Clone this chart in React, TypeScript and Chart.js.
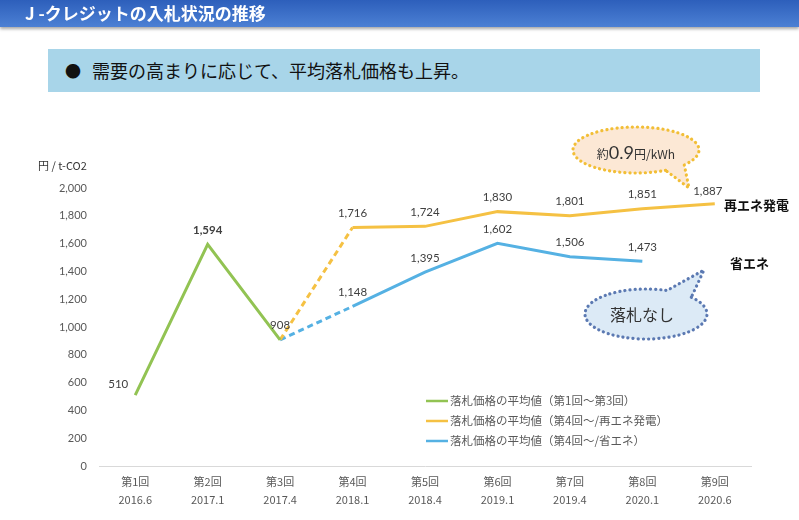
import React, { useEffect, useRef } from 'react';
import { Chart, registerables } from 'chart.js';

Chart.register(...registerables);

const rounds = ['第1回', '第2回', '第3回', '第4回', '第5回', '第6回', '第7回', '第8回', '第9回'];
const dates = ['2016.6', '2017.1', '2017.4', '2018.1', '2018.4', '2019.1', '2019.4', '2020.1', '2020.6'];
const greenValues = [510, 1594, 908, null, null, null, null, null, null];
const yellowValues = [null, null, 908, 1716, 1724, 1830, 1801, 1851, 1887];
const blueValues = [null, null, 908, 1148, 1395, 1602, 1506, 1473, null];
const seriesNames = [
  '落札価格の平均値（第1回～第3回）',
  '落札価格の平均値（第4回～/再エネ発電）',
  '落札価格の平均値（第4回～/省エネ）',
];
const yTickStep = 200;
const yMax = 2000;

const GREEN = '#92C353';
const YELLOW = '#F5C143';
const BLUE = '#55B1E3';
const JP = '"Noto Sans CJK JP", "Noto Sans", sans-serif';
const NUM = 'Lato, "Noto Sans", sans-serif';

const fmt = (v: number) => v.toLocaleString('en-US');

function bubble(ctx: CanvasRenderingContext2D, cx: number, cy: number, rx: number, ry: number,
  a0: number, a1: number, tipX: number, tipY: number, fill: string, stroke: string) {
  const d = Math.PI / 180;
  ctx.save();
  ctx.beginPath();
  ctx.ellipse(cx, cy, rx, ry, 0, a0 * d, a1 * d, false);
  ctx.lineTo(tipX, tipY);
  ctx.closePath();
  ctx.fillStyle = fill;
  ctx.fill();
  ctx.setLineDash([0.1, 5]);
  ctx.lineCap = 'round';
  ctx.lineWidth = 3.2;
  ctx.strokeStyle = stroke;
  ctx.stroke();
  ctx.restore();
}

const overlayPlugin = {
  id: 'overlay',
  afterDatasetsDraw(chart: any) {
    const ctx: CanvasRenderingContext2D = chart.ctx;
    ctx.save();

    // axis unit
    ctx.font = `11px ${JP}`;
    ctx.fillStyle = '#333';
    ctx.textAlign = 'left';
    ctx.textBaseline = 'middle';
    ctx.fillText('円 / t-CO2', 38, 166);

    // data labels
    ctx.textAlign = 'center';
    chart.data.datasets.forEach((ds: any, di: number) => {
      const meta = chart.getDatasetMeta(di);
      ds.data.forEach((v: number | null, i: number) => {
        if (v == null) return;
        if (di > 0 && i === 2) return;
        const p = meta.data[i];
        let dx = 0, dy = -14;
        if (di === 0 && i === 0) { dx = -17; dy = -11; }
        if (di === 1 && i === 8) { dx = -7; dy = -12; }
        ctx.font = (di === 0 && i === 1) ? `bold 11.5px ${NUM}` : `11.5px ${NUM}`;
        ctx.fillStyle = '#404040';
        ctx.fillText(fmt(v), p.x + dx, p.y + dy);
      });
    });

    // legend
    const legendY = [401, 421, 441];
    const colors = [GREEN, YELLOW, BLUE];
    ctx.font = `11.5px ${JP}`;
    ctx.textAlign = 'left';
    colors.forEach((c, k) => {
      ctx.strokeStyle = c;
      ctx.lineWidth = 2.5;
      ctx.beginPath();
      ctx.moveTo(426, legendY[k]);
      ctx.lineTo(448, legendY[k]);
      ctx.stroke();
      ctx.fillStyle = '#595959';
      ctx.fillText(chart.data.datasets[k].label, 450, legendY[k]);
    });

    // series end labels
    ctx.font = `bold 13px ${JP}`;
    ctx.fillStyle = '#111';
    ctx.fillText('再エネ発電', 724, 205);
    ctx.fillText('省エネ', 730, 263);

    // callout 1
    bubble(ctx, 636, 150, 63, 23, 62, 400, 689, 188, '#FCE8D5', '#F2BE36');
    {
      const parts = [
        { t: '約', f: `12px ${JP}` },
        { t: '0.9', f: `18px ${NUM}` },
        { t: '円/kWh', f: `12px ${JP}` },
      ];
      let total = 0;
      parts.forEach(p => { ctx.font = p.f; total += ctx.measureText(p.t).width; });
      let x = 636 - total / 2;
      ctx.fillStyle = '#333';
      ctx.textBaseline = 'alphabetic';
      parts.forEach(p => { ctx.font = p.f; ctx.fillText(p.t, x, 159); x += ctx.measureText(p.t).width; });
    }

    // callout 2
    bubble(ctx, 646, 314, 61, 25, -42, 290, 704, 270, '#DCEAF6', '#5B79B2');
    ctx.font = `16px ${JP}`;
    ctx.fillStyle = '#333';
    ctx.textAlign = 'center';
    ctx.textBaseline = 'middle';
    ctx.fillText('落札なし', 642, 315);

    ctx.restore();
  },
};

export default function App() {
  const ref = useRef<HTMLCanvasElement>(null);
  useEffect(() => {
    const dash = (c: any) => (c.p0DataIndex === 2 ? [6, 4] : undefined);
    const chart = new Chart(ref.current!, {
      type: 'line',
      data: {
        labels: rounds.map((r, i) => [r, dates[i]]),
        datasets: [
          { label: seriesNames[0], data: greenValues, borderColor: GREEN, borderWidth: 3, pointRadius: 0, tension: 0 },
          { label: seriesNames[1], data: yellowValues, borderColor: YELLOW, borderWidth: 3, pointRadius: 0, tension: 0, segment: { borderDash: dash } },
          { label: seriesNames[2], data: blueValues, borderColor: BLUE, borderWidth: 3, pointRadius: 0, tension: 0, segment: { borderDash: dash } },
        ],
      } as any,
      options: {
        responsive: false,
        animation: false,
        layout: { padding: { left: 0, top: 188, right: 48, bottom: 0 } },
        plugins: { legend: { display: false }, tooltip: { enabled: false } },
        scales: {
          x: {
            offset: true,
            grid: { display: false, drawTicks: false },
            border: { display: true, color: '#D9D9D9', width: 1 },
            ticks: { padding: 7, color: '#595959', font: { size: 11, family: JP, lineHeight: 1.6 }, maxRotation: 0, autoSkip: false },
            afterFit: (s: any) => { s.height = 54; },
          },
          y: {
            min: 0,
            max: yMax,
            grid: { display: false, drawTicks: false },
            border: { display: false },
            ticks: { stepSize: yTickStep, padding: 12, color: '#595959', font: { size: 11, family: NUM }, callback: (v: any) => fmt(Number(v)) },
            afterFit: (s: any) => { s.width = 99; },
          },
        },
      } as any,
      plugins: [overlayPlugin],
    });
    return () => chart.destroy();
  }, []);

  return (
    <div style={{ position: 'fixed', left: 0, top: 0, width: 799, height: 520, background: '#fff', overflow: 'hidden' }}>
      <canvas ref={ref} width={799} height={520} style={{ position: 'absolute', left: 0, top: 0, width: 799, height: 520 }} />
      <div style={{
        position: 'absolute', left: 0, top: 0, width: 799, height: 27,
        background: 'linear-gradient(to bottom, #2D5FBB, #4C80D4)',
        boxShadow: '0 2px 3px rgba(0,0,0,0.35)',
        color: '#fff', fontFamily: JP, fontWeight: 700, fontSize: 17, lineHeight: '26px',
        paddingLeft: 25, boxSizing: 'border-box', whiteSpace: 'nowrap',
      }}>J -クレジットの入札状況の推移</div>
      <div style={{
        position: 'absolute', left: 48, top: 49, width: 712, height: 43,
        background: '#A8D5E9', fontFamily: JP, fontSize: 18, lineHeight: '43px',
        color: '#111', whiteSpace: 'nowrap',
      }}>
        <span style={{ position: 'absolute', left: 17, fontSize: 16 }}>●</span>
        <span style={{ position: 'absolute', left: 44 }}>需要の高まりに応じて、平均落札価格も上昇。</span>
      </div>
    </div>
  );
}
